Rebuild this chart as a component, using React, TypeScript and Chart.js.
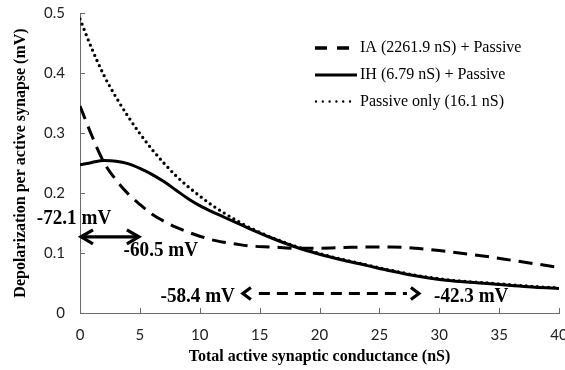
import React, { useEffect, useRef } from 'react';
import { Chart, registerables } from 'chart.js';

Chart.register(...registerables);

// ---- data ----
const conductance = [0, 1, 2, 3, 4, 5, 6, 7, 8, 9, 10, 11, 12, 13, 14, 16, 18, 20, 22, 24, 26, 28, 30, 32, 34, 36, 38, 40];
const iaPassive = [0.345, 0.295, 0.251, 0.222, 0.199, 0.181, 0.165, 0.153, 0.143, 0.135, 0.128, 0.122, 0.118, 0.115, 0.112, 0.11, 0.108, 0.108, 0.109, 0.11, 0.11, 0.108, 0.104, 0.099, 0.094, 0.088, 0.082, 0.076];
const ihPassive = [0.247, 0.251, 0.254, 0.253, 0.249, 0.241, 0.231, 0.219, 0.205, 0.191, 0.179, 0.169, 0.16, 0.151, 0.142, 0.125, 0.11, 0.098, 0.088, 0.079, 0.07, 0.062, 0.056, 0.052, 0.049, 0.046, 0.043, 0.041];
const passiveOnly = [0.49, 0.44, 0.396, 0.36, 0.328, 0.299, 0.273, 0.25, 0.229, 0.211, 0.195, 0.18, 0.167, 0.155, 0.144, 0.126, 0.111, 0.099, 0.089, 0.08, 0.071, 0.063, 0.057, 0.053, 0.05, 0.047, 0.044, 0.042];

const seriesLabels = ['IA (2261.9 nS) + Passive', 'IH (6.79 nS) + Passive', 'Passive only (16.1 nS)'];
const xAxisTitle = 'Total active synaptic conductance (nS)';
const yAxisTitle = 'Depolarization per active synapse (mV)';

// annotation texts and their data-space anchors
const noteTexts = ['-72.1 mV', '-60.5 mV', '-58.4 mV', '-42.3 mV'];
const noteX = [-0.5, 6.75, 9.83, 32.67];
const noteY = [0.158, 0.105, 0.027, 0.027];

// double-headed arrows (data space)
const arrowX1 = [0, 13.6];
const arrowX2 = [5, 28.3];
const arrowY = [0.127, 0.0325];
const arrowDashed = [false, true];

const SERIF = '"Liberation Serif", "Times New Roman", serif';
const SANS = 'Lato, "Open Sans", sans-serif';

const toData = (ys: number[]) => conductance.map((x, i) => ({ x, y: ys[i] }));

const inwardTicks = {
  id: 'inwardTicks',
  afterDraw(chart: any) {
    const { ctx, scales, chartArea } = chart;
    const xs = scales.x;
    const ys = scales.y;
    ctx.save();
    ctx.strokeStyle = '#6b6b6b';
    ctx.lineWidth = 1;
    ctx.beginPath();
    xs.ticks.forEach((t: any) => {
      const px = Math.round(xs.getPixelForValue(t.value)) + 0.5;
      ctx.moveTo(px, chartArea.bottom);
      ctx.lineTo(px, chartArea.bottom - 5);
    });
    ys.ticks.forEach((t: any) => {
      const py = Math.round(ys.getPixelForValue(t.value)) + 0.5;
      ctx.moveTo(chartArea.left, py);
      ctx.lineTo(chartArea.left + 5, py);
    });
    ctx.stroke();
    ctx.restore();
  },
};

function drawHead(ctx: any, tx: number, ty: number, dir: number, len: number, half: number) {
  ctx.beginPath();
  ctx.moveTo(tx - dir * len, ty - half);
  ctx.lineTo(tx, ty);
  ctx.lineTo(tx - dir * len, ty + half);
  ctx.stroke();
}

const annotations = {
  id: 'annotations',
  afterDatasetsDraw(chart: any) {
    const { ctx, scales } = chart;
    const xs = scales.x;
    const ys = scales.y;
    ctx.save();
    ctx.strokeStyle = '#000';
    ctx.fillStyle = '#000';
    ctx.lineJoin = 'miter';
    arrowX1.forEach((ax1, i) => {
      const x1 = xs.getPixelForValue(ax1);
      const x2 = xs.getPixelForValue(arrowX2[i]);
      const y = ys.getPixelForValue(arrowY[i]);
      ctx.lineWidth = 3.2;
      if (arrowDashed[i]) {
        ctx.setLineDash([11, 7]);
        ctx.lineCap = 'butt';
        ctx.beginPath();
        ctx.moveTo(x1 + 16, y);
        ctx.lineTo(x2 - 12, y);
        ctx.stroke();
        ctx.setLineDash([]);
        drawHead(ctx, x1, y, -1, 8, 6);
        drawHead(ctx, x2, y, 1, 8, 6);
      } else {
        ctx.setLineDash([]);
        ctx.lineCap = 'butt';
        ctx.beginPath();
        ctx.moveTo(x1 + 1, y);
        ctx.lineTo(x2 - 1, y);
        ctx.stroke();
        drawHead(ctx, x1 + 1, y, -1, 12, 7);
        drawHead(ctx, x2 - 1, y, 1, 12, 7);
      }
    });
    ctx.font = `bold 22px ${SERIF}`;
    ctx.textAlign = 'center';
    ctx.textBaseline = 'middle';
    noteTexts.forEach((t, i) => {
      const px = xs.getPixelForValue(noteX[i]);
      const py = ys.getPixelForValue(noteY[i]);
      ctx.save();
      ctx.translate(px, py);
      ctx.scale(0.87, 1);
      ctx.fillText(t, 0, 0);
      ctx.restore();
    });
    ctx.restore();
  },
};

const customLegend = {
  id: 'customLegend',
  afterDraw(chart: any) {
    const { ctx } = chart;
    const lx = 315;
    const tx = 360;
    const rows = [48, 75, 101.5];
    ctx.save();
    ctx.strokeStyle = '#000';
    // dashed
    ctx.lineWidth = 3.5;
    ctx.setLineDash([12, 10]);
    ctx.lineCap = 'butt';
    ctx.beginPath();
    ctx.moveTo(lx, rows[0]);
    ctx.lineTo(lx + 35, rows[0]);
    ctx.stroke();
    // solid
    ctx.setLineDash([]);
    ctx.lineWidth = 3;
    ctx.beginPath();
    ctx.moveTo(lx, rows[1]);
    ctx.lineTo(lx + 42, rows[1]);
    ctx.stroke();
    // dotted
    ctx.lineWidth = 2.4;
    ctx.lineCap = 'round';
    ctx.setLineDash([0, 6.8]);
    ctx.beginPath();
    ctx.moveTo(lx + 1, rows[2]);
    ctx.lineTo(lx + 36, rows[2]);
    ctx.stroke();
    ctx.setLineDash([]);
    ctx.fillStyle = '#000';
    ctx.font = `16px ${SERIF}`;
    ctx.textAlign = 'left';
    ctx.textBaseline = 'middle';
    seriesLabels.forEach((s, i) => ctx.fillText(s, tx, rows[i]));
    ctx.restore();
  },
};

export default function App() {
  const ref = useRef<HTMLCanvasElement | null>(null);

  useEffect(() => {
    if (!ref.current) return;
    const chart = new Chart(ref.current, {
      type: 'line',
      data: {
        datasets: [
          {
            label: seriesLabels[0],
            data: toData(iaPassive),
            borderColor: '#000',
            borderWidth: 3,
            borderDash: [14, 8],
            pointRadius: 0,
            cubicInterpolationMode: 'monotone',
            fill: false,
          },
          {
            label: seriesLabels[1],
            data: toData(ihPassive),
            borderColor: '#000',
            borderWidth: 3,
            pointRadius: 0,
            cubicInterpolationMode: 'monotone',
            fill: false,
          },
          {
            label: seriesLabels[2],
            data: toData(passiveOnly),
            borderColor: '#000',
            borderWidth: 3.3,
            borderDash: [0, 5.6],
            borderCapStyle: 'round',
            pointRadius: 0,
            cubicInterpolationMode: 'monotone',
            fill: false,
          },
        ],
      },
      options: {
        responsive: false,
        animation: false,
        layout: { padding: { left: 0, right: 6, top: 13, bottom: 0 } },
        plugins: {
          legend: { display: false },
          tooltip: { enabled: false },
        },
        scales: {
          x: {
            type: 'linear',
            min: 0,
            max: 40,
            grid: { display: true, drawOnChartArea: false, drawTicks: false },
            border: { display: true, color: '#6b6b6b', width: 1 },
            ticks: {
              stepSize: 5,
              autoSkip: false,
              maxRotation: 0,
              padding: 13,
              color: '#222',
              font: { family: SANS, size: 15 },
            },
            title: {
              display: true,
              text: xAxisTitle,
              color: '#000',
              font: { family: SERIF, size: 16, weight: 'bold' },
              padding: { top: 4, bottom: 4 },
            },
            afterFit(scale: any) {
              scale.height = 57;
              scale.paddingLeft = 0;
              scale.paddingRight = 0;
            },
          },
          y: {
            type: 'linear',
            min: 0,
            max: 0.5,
            grid: { display: true, drawOnChartArea: false, drawTicks: false },
            border: { display: true, color: '#6b6b6b', width: 1 },
            ticks: {
              stepSize: 0.1,
              padding: 15,
              color: '#222',
              font: { family: SANS, size: 15 },
            },
            title: {
              display: true,
              text: yAxisTitle,
              color: '#000',
              font: { family: SERIF, size: 16, weight: 'bold' },
              padding: { top: 11, bottom: 0 },
            },
            afterFit(scale: any) {
              scale.width = 80;
              scale.paddingTop = 0;
              scale.paddingBottom = 0;
            },
          },
        },
      },
      plugins: [inwardTicks, annotations, customLegend],
    } as any);
    return () => chart.destroy();
  }, []);

  return (
    <div style={{ position: 'fixed', left: 0, top: 0, width: 565, height: 370, background: '#fff' }}>
      <canvas ref={ref} width={565} height={370} style={{ display: 'block' }} />
    </div>
  );
}
